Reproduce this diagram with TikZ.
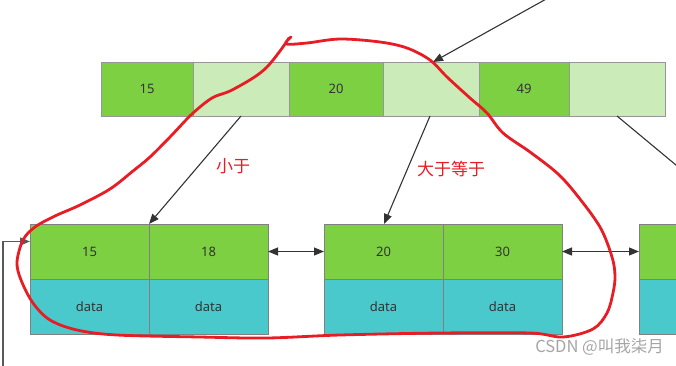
\documentclass[tikz,border=0pt]{standalone}
\usepackage{fontspec}
\setmainfont{Noto Sans}
\newfontfamily\cjk{Noto Sans CJK SC}
\usetikzlibrary{arrows.meta}
\definecolor{kgreen}{RGB}{126,208,67}
\definecolor{lgreen}{RGB}{203,236,184}
\definecolor{dcyan}{RGB}{74,201,204}
\definecolor{bordergray}{RGB}{150,150,150}
\definecolor{txtgray}{RGB}{51,51,51}
\definecolor{penred}{RGB}{232,28,36}
\definecolor{wmgray}{RGB}{165,165,165}
\tikzset{
  cell/.style={draw=bordergray, line width=0.9pt, minimum height=54pt, inner sep=0pt, outer sep=0pt,
    font=\fontsize{13}{15}\selectfont, text=txtgray, anchor=north west},
  keycell/.style={cell, fill=kgreen},
  ptrcell/.style={cell, fill=lgreen},
  leafkey/.style={cell, fill=kgreen, draw=black!50, minimum width=119pt, minimum height=55pt},
  leafdata/.style={cell, fill=dcyan, draw=black!50, minimum width=119pt, minimum height=55pt},
  conn/.style={draw=txtgray, line width=1.1pt, -{Triangle[length=10pt,width=8pt]}},
  dconn/.style={draw=txtgray, line width=1.1pt, {Triangle[length=10pt,width=8pt]}-{Triangle[length=10pt,width=8pt]}},
  pen/.style={draw=penred, line width=2.8pt, line cap=round, line join=round},
  redlabel/.style={text=penred, font=\cjk\fontsize{17}{19}\selectfont, inner sep=0pt},
}
\begin{document}
\begin{tikzpicture}[x=1pt,y=-1pt]
\useasboundingbox (0,0) rectangle (676,365);
\clip (0,0) rectangle (676,365);
% top (internal) node
\node[keycell, minimum width=92pt] (t1) at (101,62) {15};
\node[ptrcell, minimum width=96pt] (t2) at (193,62) {};
\node[keycell, minimum width=94pt] (t3) at (289,62) {20};
\node[ptrcell, minimum width=96pt] (t4) at (383,62) {};
\node[keycell, minimum width=90pt] (t5) at (479,62) {49};
\node[ptrcell, minimum width=96pt] (t6) at (569,62) {};
% leaf nodes
\node[leafkey] (a1) at (30,224) {15};
\node[leafkey] (a2) at (149,224) {18};
\node[leafdata] (d1) at (30,279) {data};
\node[leafdata] (d2) at (149,279) {data};
\node[leafkey] (a3) at (324,224) {20};
\node[leafkey] (a4) at (443,224) {30};
\node[leafdata] (d3) at (324,279) {data};
\node[leafdata] (d4) at (443,279) {data};
\node[leafkey] (a5) at (639,224) {};
\node[leafdata] (d5) at (639,279) {};
% connectors
\coordinate (top) at (548,-2);
\coordinate (rfree) at (700,185);
\coordinate (lstart) at (3,370);
\draw[conn] (top) -- ([xshift=50pt]t4.north west);
\draw[conn] ([xshift=48pt]t2.south west) -- (a2.north west);
\draw[conn] ([xshift=47pt]t4.south west) -- ([xshift=60pt]a3.north west);
\draw[draw=txtgray, line width=1.1pt] ([xshift=48pt]t6.south west) -- (rfree);
\draw[dconn] (a2.east) -- (a3.west);
\draw[dconn] (a4.east) -- (a5.west);
\draw[conn, draw=black!65, line width=1.5pt] (lstart) |- ([yshift=10pt]a1.west);
% labels
\node[redlabel] (lt) at (233,166) {小于};
\node[redlabel] (ge) at (451,169) {大于等于};
% red freehand loop
\draw[pen] plot[smooth, tension=0.55] coordinates {
 (291,37) (286,44) (307,43) (340,39) (380,42) (407,48) (430,60) (447,77) (470,98) (487,113)
 (503,133) (530,152) (557,173) (576,194) (600,227) (612,257) (615,276) (613,293) (607,313)
 (593,329) (563,337) (530,333) (440,333) (340,335) (267,338) (200,337) (117,335) (77,330)
 (50,320) (33,303) (21,280) (17,262) (23,240) (35,227) (55,216) (80,205) (110,189)
 (133,171) (150,157) (170,137) (192,114) (212,98) (230,91) (253,78) (267,67) (280,51) (289,38)};
% watermark
\node[text=wmgray, font=\cjk\fontsize{16.5}{18}\selectfont, anchor=east, inner sep=0pt] (wm) at (664,347) {CSDN @叫我柒月};
\end{tikzpicture}
\end{document}
